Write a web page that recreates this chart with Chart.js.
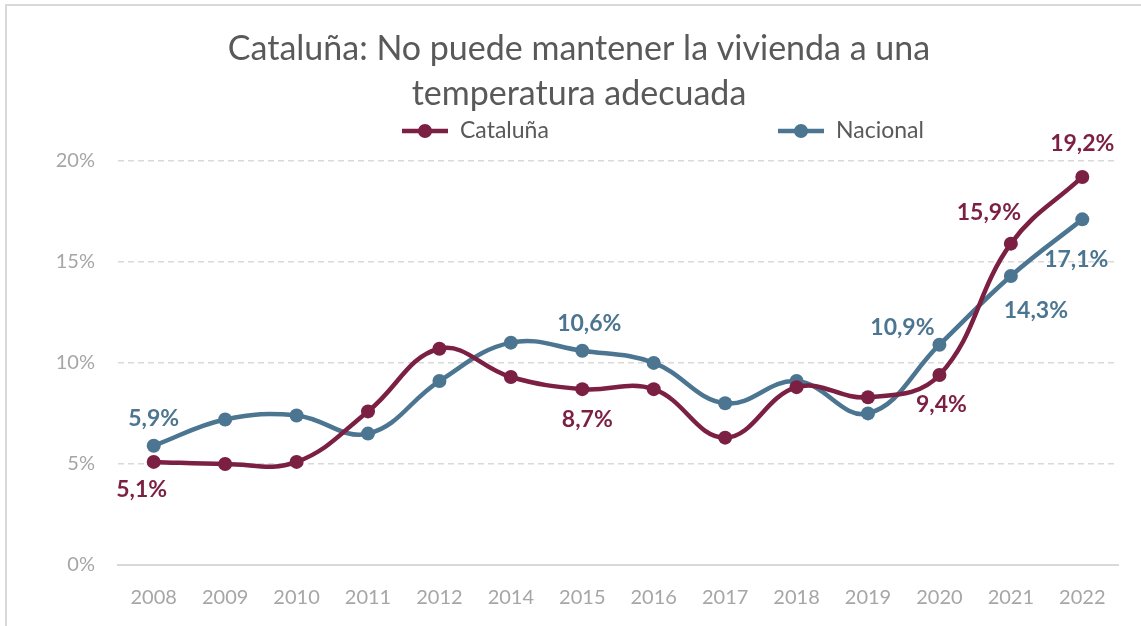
<!DOCTYPE html>
<html>
<head>
<meta charset="utf-8">
<script src="https://cdn.jsdelivr.net/npm/chart.js@4.4.1/dist/chart.umd.min.js"></script>
<style>
  html, body { margin: 0; padding: 0; background: #fff; }
  #wrap { position: relative; width: 1141px; height: 626px; }
</style>
</head>
<body>
<div id="wrap"><canvas id="chart"></canvas></div>
<script>
/* ─── Data ───────────────────────────────────────────────── */
const YEARS    = ['2008', '2009', '2010', '2011', '2012', '2014', '2015', '2016', '2017', '2018', '2019', '2020', '2021', '2022'];
const CATALUNA = [5.1, 5.0, 5.1, 7.6, 10.7, 9.3, 8.7, 8.7, 6.3, 8.8, 8.3, 9.4, 15.9, 19.2];
const NACIONAL = [5.9, 7.2, 7.4, 6.5, 9.1, 11.0, 10.6, 10.0, 8.0, 9.1, 7.5, 10.9, 14.3, 17.1];
const Y_TICKS  = [0, 5, 10, 15, 20];

// which points carry a value label, and where it sits relative to the point
const CAT_LABELS = { 0: [-12, 28], 6: [5, 30], 11: [2, 30], 12: [-22, -31], 13: [0, -33] };
const NAC_LABELS = { 0: [0, -27], 6: [7, -27], 11: [-37, -17], 12: [25, 35], 13: [-6, 40] };

/* ─── Style ──────────────────────────────────────────────── */
const FONT   = 'Lato, "Open Sans", sans-serif';
const RED    = '#7b1f43';
const BLUE   = '#4b7590';
const GRID   = '#d9d9d9';
const TICK   = '#a6a6a6';
const TITLE  = '#595959';

const fmt = v => v.toFixed(1).replace('.', ',') + '%';

/* ─── Plugins ────────────────────────────────────────────── */
const frame = {
  id: 'frame',
  beforeDraw(chart) {
    const c = chart.ctx;
    c.save();
    c.strokeStyle = GRID;
    c.lineWidth = 2;
    c.beginPath();
    c.moveTo(6, chart.height + 5);
    c.lineTo(6, 5);
    c.lineTo(chart.width + 5, 5);
    c.stroke();
    c.restore();
  },
};

const legendItems = [
  { text: 'Cataluña', color: RED,  x: 402 },
  { text: 'Nacional', color: BLUE, x: 778 },
];

const customLegend = {
  id: 'customLegend',
  afterDraw(chart) {
    const c = chart.ctx;
    const y = 131;
    c.save();
    legendItems.forEach(it => {
      c.strokeStyle = it.color;
      c.lineWidth = 4.5;
      c.beginPath();
      c.moveTo(it.x, y);
      c.lineTo(it.x + 46, y);
      c.stroke();
      c.fillStyle = it.color;
      c.beginPath();
      c.arc(it.x + 23, y, 7, 0, Math.PI * 2);
      c.fill();
      c.fillStyle = TITLE;
      c.font = '23px ' + FONT;
      c.textAlign = 'left';
      c.textBaseline = 'middle';
      c.fillText(it.text, it.x + 58, y);
    });
    c.restore();
  },
};

const valueLabels = {
  id: 'valueLabels',
  afterDatasetsDraw(chart) {
    const c = chart.ctx;
    c.save();
    c.font = 'bold 23px ' + FONT;
    c.textAlign = 'center';
    c.textBaseline = 'middle';
    chart.data.datasets.forEach((ds, di) => {
      const meta = chart.getDatasetMeta(di);
      Object.entries(ds.labelAt || {}).forEach(([i, off]) => {
        const pt = meta.data[i];
        c.fillStyle = ds.borderColor;
        c.fillText(fmt(ds.data[i]), pt.x + off[0], pt.y + off[1]);
      });
    });
    c.restore();
  },
};

/* ─── Chart ──────────────────────────────────────────────── */
const line = (label, data, color, labelAt) => ({
  label, data, labelAt,
  borderColor: color,
  backgroundColor: color,
  pointBackgroundColor: color,
  pointBorderWidth: 0,
  pointRadius: 7,
  borderWidth: 4.5,
  tension: 0.4,
  fill: false,
});

new Chart(document.getElementById('chart'), {
  type: 'line',
  data: {
    labels: YEARS,
    datasets: [
      line('Cataluña', CATALUNA, RED, CAT_LABELS),
      line('Nacional', NACIONAL, BLUE, NAC_LABELS),
    ],
  },
  options: {
    responsive: true,
    maintainAspectRatio: false,
    animation: false,
    layout: { padding: { left: 40, right: 23, top: 0, bottom: 0 } },
    plugins: {
      legend: { display: false },
      tooltip: { enabled: false },
      title: {
        display: true,
        text: ['Cataluña: No puede mantener la vivienda a una', 'temperatura adecuada'],
        color: TITLE,
        font: { family: FONT, size: 34, weight: 'normal', lineHeight: 1.32 },
        padding: { top: 27, bottom: 44 },
      },
    },
    scales: {
      x: {
        offset: true,
        grid: { display: false, drawTicks: false },
        border: { display: true, color: GRID, width: 2 },
        ticks: { color: TICK, font: { family: FONT, size: 20 }, padding: 21, maxRotation: 0 },
        afterFit: s => { s.height = 61; },
      },
      y: {
        min: 0, max: 20,
        afterBuildTicks: s => { s.ticks = Y_TICKS.map(v => ({ value: v })); },
        grid: { color: GRID, lineWidth: 1.5, drawTicks: false },
        border: { display: false, dash: [6, 4] },
        ticks: { color: TICK, font: { family: FONT, size: 20 }, padding: 23, callback: v => v + '%' },
        afterFit: s => { s.width = 78; },
      },
    },
  },
  plugins: [frame, customLegend, valueLabels],
});
</script>
</body>
</html>
